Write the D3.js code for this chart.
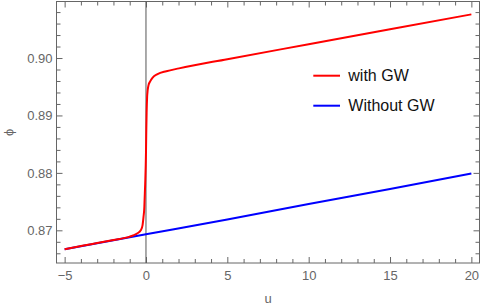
<!DOCTYPE html>
<html>
<head>
<meta charset="utf-8">
<script src="https://cdn.jsdelivr.net/npm/d3@7"></script>
<style>
  body { margin: 0; background: #fff; }
  svg { display: block; font-family: "Liberation Sans", Arial, sans-serif; }
</style>
</head>
<body>
<div id="chart"></div>
<script>
// data
var uWith = [-5, -3, -2, -1, -0.8, -0.52, -0.31, -0.21, -0.15, -0.1, -0.086, -0.05, 0, 0.02, 0.04, 0.07, 0.1, 0.15, 0.25, 0.41, 0.71, 1.25, 2.03, 5, 10, 15, 20];
var phiWith = [0.8667, 0.8678, 0.8683, 0.8689, 0.8691, 0.86948, 0.87005, 0.87092, 0.87237, 0.87411, 0.87528, 0.878, 0.8835, 0.8875, 0.8905, 0.8932, 0.8943, 0.8952, 0.8959, 0.8966, 0.8972, 0.8977, 0.8982, 0.8998, 0.9024, 0.9050, 0.9076];
var uWithout = [-5, 0, 5, 10, 15, 20];
var phiWithout = [0.8667, 0.8693, 0.8719, 0.8746, 0.8772, 0.8799];
var seriesNames = ["with GW", "Without GW"];
var seriesColors = ["#ff0000", "#0000ff"];
var xTicks = [-5, 0, 5, 10, 15, 20];
var yTicks = [0.87, 0.88, 0.89, 0.90];

const W = 480, H = 306;
const pLeft = 56.5, pRight = 479.5, pTop = 1.5, pBottom = 263;
const frameColor = "#666";

var svg = d3.select("#chart").append("svg").attr("width", W).attr("height", H);

var x = d3.scaleLinear().domain([-5.5, 20.5]).range([pLeft, pRight]);
var y = d3.scaleLinear().domain([0.86431, 0.90984]).range([pBottom, pTop]);

var xMinor = d3.range(-5, 20.5, 1).filter(d => d % 5 !== 0);
var yMinor = d3.range(0, 25).map(i => 0.864 + i * 0.002).filter(d => d > 0.8644 && d < 0.9098 && Math.abs(d * 100 - Math.round(d * 100)) > 1e-6);

// frame with ticks on all four sides, pointing inward
function frameAxis(axisFn, scale, ticks, size, fmt, tx, ty) {
  var g = svg.append("g").attr("transform", "translate(" + tx + "," + ty + ")")
    .call(axisFn(scale).tickValues(ticks).tickSizeInner(size).tickSizeOuter(0)
      .tickPadding(axisFn === d3.axisBottom ? 8 : 4).tickFormat(fmt));
  g.select(".domain").remove();
  g.selectAll("line").attr("stroke", frameColor);
  g.selectAll("text").attr("fill", frameColor).style("font-size", "13px")
    .style("font-family", '"Liberation Sans", Arial, sans-serif');
  return g;
}
frameAxis(d3.axisBottom, x, xTicks, -6, d3.format("d"), 0, pBottom);
frameAxis(d3.axisBottom, x, xMinor, -4, () => "", 0, pBottom);
frameAxis(d3.axisTop, x, xTicks, -6, () => "", 0, pTop);
frameAxis(d3.axisTop, x, xMinor, -4, () => "", 0, pTop);
frameAxis(d3.axisLeft, y, yTicks, -6, d3.format(".2f"), pLeft, 0);
frameAxis(d3.axisLeft, y, yMinor, -4, () => "", pLeft, 0);
frameAxis(d3.axisRight, y, yTicks, -6, () => "", pRight, 0);
frameAxis(d3.axisRight, y, yMinor, -4, () => "", pRight, 0);

svg.append("rect").attr("x", pLeft).attr("y", pTop)
  .attr("width", pRight - pLeft).attr("height", pBottom - pTop)
  .attr("fill", "none").attr("stroke", frameColor).attr("stroke-width", 1);

// vertical line at u = 0
svg.append("line").attr("x1", x(0)).attr("x2", x(0)).attr("y1", pTop).attr("y2", pBottom)
  .attr("stroke", "#555").attr("stroke-width", 1);

var line = d3.line().x(d => x(d[0])).y(d => y(d[1])).curve(d3.curveMonotoneX);

svg.append("path").datum(d3.zip(uWithout, phiWithout)).attr("d", line)
  .attr("fill", "none").attr("stroke", seriesColors[1]).attr("stroke-width", 2);
svg.append("path").datum(d3.zip(uWith, phiWith)).attr("d", line)
  .attr("fill", "none").attr("stroke", seriesColors[0]).attr("stroke-width", 2);

// axis labels
svg.append("text").attr("x", (pLeft + pRight) / 2).attr("y", 302.7)
  .attr("text-anchor", "middle").attr("fill", frameColor).style("font-size", "13px").text("u");
svg.append("text").attr("transform", "translate(13," + ((pTop + pBottom) / 2) + ") rotate(-90)")
  .attr("text-anchor", "middle").attr("fill", frameColor).style("font-size", "13px").text("ϕ");

// legend
var legend = svg.append("g").attr("transform", "translate(313.3,75.7)");
seriesNames.forEach(function (name, i) {
  legend.append("line").attr("x1", 0).attr("x2", 26.7).attr("y1", i * 30).attr("y2", i * 30)
    .attr("stroke", seriesColors[i]).attr("stroke-width", 2);
  legend.append("text").attr("x", 35).attr("y", i * 30 + 5).attr("fill", "#111")
    .style("font-size", "16px").text(name);
});
</script>
</body>
</html>
